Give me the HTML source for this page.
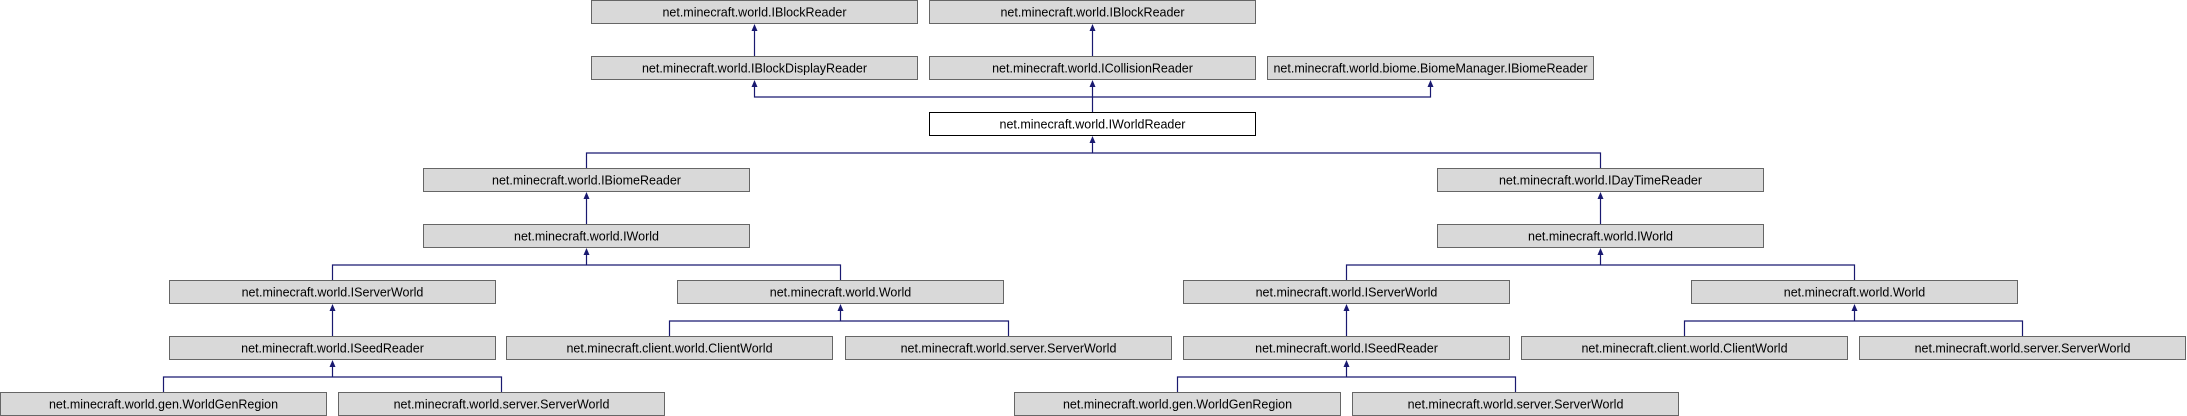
<!DOCTYPE html>
<html><head><meta charset="utf-8"><style>
html,body{margin:0;padding:0;background:#fff;}
svg{display:block;}
text{font-family:"Liberation Sans",sans-serif;font-size:12.5px;fill:#000;}
</style></head><body>
<svg width="2187" height="416" viewBox="0 0 2187 416" xmlns="http://www.w3.org/2000/svg">
<defs>
<marker id="a" markerWidth="8" markerHeight="8" refX="3" refY="0.5" orient="auto" markerUnits="userSpaceOnUse" viewBox="0 0 6 8">
</marker>
</defs>
<g fill="#d9d9d9" stroke="#666" stroke-width="1">
<rect x="591.5" y="0.5" width="326" height="23"/>
<rect x="929.5" y="0.5" width="326" height="23"/>
<rect x="591.5" y="56.5" width="326" height="23"/>
<rect x="929.5" y="56.5" width="326" height="23"/>
<rect x="1267.5" y="56.5" width="326" height="23"/>
<rect x="929.5" y="112.5" width="326" height="23" fill="#fff" stroke="#000"/>
<rect x="423.5" y="168.5" width="326" height="23"/>
<rect x="1437.5" y="168.5" width="326" height="23"/>
<rect x="423.5" y="224.5" width="326" height="23"/>
<rect x="1437.5" y="224.5" width="326" height="23"/>
<rect x="169.5" y="280.5" width="326" height="23"/>
<rect x="677.5" y="280.5" width="326" height="23"/>
<rect x="1183.5" y="280.5" width="326" height="23"/>
<rect x="1691.5" y="280.5" width="326" height="23"/>
<rect x="169.5" y="336.5" width="326" height="23"/>
<rect x="506.5" y="336.5" width="326" height="23"/>
<rect x="845.5" y="336.5" width="326" height="23"/>
<rect x="1183.5" y="336.5" width="326" height="23"/>
<rect x="1521.5" y="336.5" width="326" height="23"/>
<rect x="1859.5" y="336.5" width="326" height="23"/>
<rect x="0.5" y="392.5" width="326" height="23"/>
<rect x="338.5" y="392.5" width="326" height="23"/>
<rect x="1014.5" y="392.5" width="326" height="23"/>
<rect x="1352.5" y="392.5" width="326" height="23"/>
</g>
<g fill="none" stroke="#191970" stroke-width="1.2">
<path d="M754.5 56V29"/>
<path d="M1092.5 56V29"/>
<path d="M1092.5 112V85M1092.5 97H754.5V85M1092.5 97H1430.5V85"/>
<path d="M586.5 168V153H1600.5V168M1092.5 153V141"/>
<path d="M586.5 224V197"/>
<path d="M1600.5 224V197"/>
<path d="M332.5 280V265H840.5V280M586.5 265V253"/>
<path d="M1346.5 280V265H1854.5V280M1600.5 265V253"/>
<path d="M332.5 336V309"/>
<path d="M1346.5 336V309"/>
<path d="M669.5 336V321H1008.5V336M840.5 321V309"/>
<path d="M1684.5 336V321H2022.5V336M1854.5 321V309"/>
<path d="M163.5 392V377H501.5V392M332.5 377V365"/>
<path d="M1177.5 392V377H1515.5V392M1346.5 377V365"/>
</g>
<g fill="#191970">
<path d="M754.5 24l-3 7h6z"/>
<path d="M1092.5 24l-3 7h6z"/>
<path d="M754.5 80l-3 7h6z"/>
<path d="M1092.5 80l-3 7h6z"/>
<path d="M1430.5 80l-3 7h6z"/>
<path d="M1092.5 136l-3 7h6z"/>
<path d="M586.5 192l-3 7h6z"/>
<path d="M1600.5 192l-3 7h6z"/>
<path d="M586.5 248l-3 7h6z"/>
<path d="M1600.5 248l-3 7h6z"/>
<path d="M332.5 304l-3 7h6z"/>
<path d="M840.5 304l-3 7h6z"/>
<path d="M1346.5 304l-3 7h6z"/>
<path d="M1854.5 304l-3 7h6z"/>
<path d="M332.5 360l-3 7h6z"/>
<path d="M1346.5 360l-3 7h6z"/>
</g>
<g text-anchor="middle">
<text x="754.5" y="16.5">net.minecraft.world.IBlockReader</text>
<text x="1092.5" y="16.5">net.minecraft.world.IBlockReader</text>
<text x="754.5" y="72.5">net.minecraft.world.IBlockDisplayReader</text>
<text x="1092.5" y="72.5">net.minecraft.world.ICollisionReader</text>
<text x="1430.5" y="72.5">net.minecraft.world.biome.BiomeManager.IBiomeReader</text>
<text x="1092.5" y="128.5">net.minecraft.world.IWorldReader</text>
<text x="586.5" y="184.5">net.minecraft.world.IBiomeReader</text>
<text x="1600.5" y="184.5">net.minecraft.world.IDayTimeReader</text>
<text x="586.5" y="240.5">net.minecraft.world.IWorld</text>
<text x="1600.5" y="240.5">net.minecraft.world.IWorld</text>
<text x="332.5" y="296.5">net.minecraft.world.IServerWorld</text>
<text x="840.5" y="296.5">net.minecraft.world.World</text>
<text x="1346.5" y="296.5">net.minecraft.world.IServerWorld</text>
<text x="1854.5" y="296.5">net.minecraft.world.World</text>
<text x="332.5" y="352.5">net.minecraft.world.ISeedReader</text>
<text x="669.5" y="352.5">net.minecraft.client.world.ClientWorld</text>
<text x="1008.5" y="352.5">net.minecraft.world.server.ServerWorld</text>
<text x="1346.5" y="352.5">net.minecraft.world.ISeedReader</text>
<text x="1684.5" y="352.5">net.minecraft.client.world.ClientWorld</text>
<text x="2022.5" y="352.5">net.minecraft.world.server.ServerWorld</text>
<text x="163.5" y="408.5">net.minecraft.world.gen.WorldGenRegion</text>
<text x="501.5" y="408.5">net.minecraft.world.server.ServerWorld</text>
<text x="1177.5" y="408.5">net.minecraft.world.gen.WorldGenRegion</text>
<text x="1515.5" y="408.5">net.minecraft.world.server.ServerWorld</text>
</g>
</svg>
</body></html>
